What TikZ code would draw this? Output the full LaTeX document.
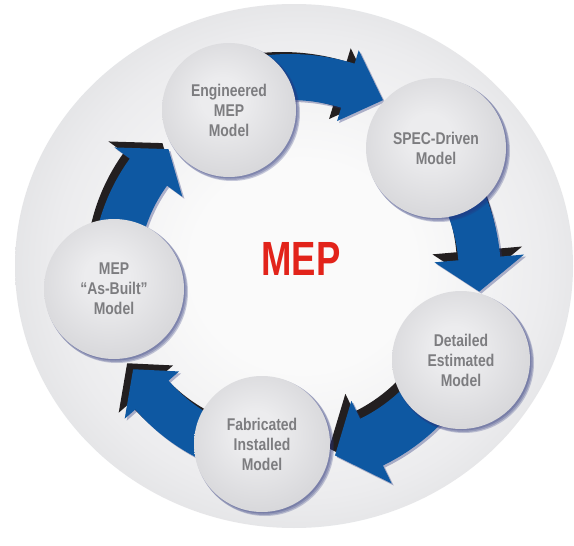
\documentclass[tikz,border=0pt]{standalone}
\usepackage{fontspec}
\newfontfamily\lblfont[FakeStretch=0.82]{Liberation Sans}
\newfontfamily\mepfont[FakeStretch=0.76]{Liberation Sans}
\definecolor{bga}{RGB}{250,250,250}
\definecolor{bgb}{RGB}{236,236,238}
\definecolor{bgc}{RGB}{216,217,219}
\definecolor{bge}{RGB}{205,206,209}
\definecolor{bgd}{RGB}{197,198,201}
\definecolor{arrblue}{RGB}{14,88,162}
\definecolor{arrblack}{RGB}{35,31,32}
\definecolor{navy}{RGB}{40,50,120}
\definecolor{lblgray}{RGB}{125,125,128}
\definecolor{mepred}{RGB}{226,35,26}
\definecolor{sa}{RGB}{236,236,238}
\definecolor{sb}{RGB}{215,215,218}
\definecolor{sc}{RGB}{186,186,190}
\definecolor{sd}{RGB}{160,160,166}
\pgfdeclareradialshading{spheresh}{\pgfpoint{-3bp}{5bp}}{color(0bp)=(sa); color(8bp)=(sa); color(28bp)=(sb); color(42bp)=(sc); color(50bp)=(sd)}
\pgfdeclareradialshading{bgsh}{\pgfpoint{1bp}{0bp}}{color(0bp)=(bga); color(10bp)=(bga); color(22bp)=(bgb); color(32bp)=(bgc); color(40bp)=(bge); color(50bp)=(bgd)}
% start, back, tip, R, h, H, dx, dy  (centre of the cycle: 290,275)
\newcommand{\cycarrow}[8]{%
  \fill[arrblack, shift={(#7,#8)}]
    plot[domain=#1:#2,samples=25] ({290+(#4+#5)*cos(\x)},{275+(#4+#5)*sin(\x)})
    -- ({290+(#4+#6)*cos(#2)},{275+(#4+#6)*sin(#2)})
    -- ({290+#4*cos(#3)},{275+#4*sin(#3)})
    -- ({290+(#4-#6)*cos(#2)},{275+(#4-#6)*sin(#2)})
    -- plot[domain=#2:#1,samples=25] ({290+(#4-#5)*cos(\x)},{275+(#4-#5)*sin(\x)})
    -- cycle;
  \fill[navy, opacity=0.35, shift={(2,2)}]
    plot[domain=#1:#2,samples=25] ({290+(#4+#5)*cos(\x)},{275+(#4+#5)*sin(\x)})
    -- ({290+(#4+#6)*cos(#2)},{275+(#4+#6)*sin(#2)})
    -- ({290+#4*cos(#3)},{275+#4*sin(#3)})
    -- ({290+(#4-#6)*cos(#2)},{275+(#4-#6)*sin(#2)})
    -- plot[domain=#2:#1,samples=25] ({290+(#4-#5)*cos(\x)},{275+(#4-#5)*sin(\x)})
    -- cycle;
  \fill[arrblue]
    plot[domain=#1:#2,samples=25] ({290+(#4+#5)*cos(\x)},{275+(#4+#5)*sin(\x)})
    -- ({290+(#4+#6)*cos(#2)},{275+(#4+#6)*sin(#2)})
    -- ({290+#4*cos(#3)},{275+#4*sin(#3)})
    -- ({290+(#4-#6)*cos(#2)},{275+(#4-#6)*sin(#2)})
    -- plot[domain=#2:#1,samples=25] ({290+(#4-#5)*cos(\x)},{275+(#4-#5)*sin(\x)})
    -- cycle;}
\tikzset{
  sphere/.style={circle, shade, shading=spheresh, minimum size=#1, inner sep=0pt,
    align=center, text=lblgray, font=\lblfont\bfseries\fontsize{17}{20}\selectfont},
  sphshadow/.style={fill=navy, opacity=0.25}
}
\newcommand{\softshadow}[3]{%
  \fill[sphshadow] (#1+3,#2+3) circle (#3+1);
  \fill[sphshadow] (#1+2,#2+2) circle (#3+1);
  \fill[sphshadow] (#1+1.5,#2+1.5) circle (#3);}
\begin{document}
\begin{tikzpicture}[x=1pt,y=-1pt]
\useasboundingbox (0,0) rectangle (574,546);
\fill[white] (0,0) rectangle (574,546);
% background disc
\shade[shading=bgsh] (294,266) ellipse [x radius=279, y radius=262];
% arrows
\cycarrow{-100}{-73}{-62}{198}{23}{37}{-8}{-2}
\cycarrow{-32}{-5}{5}{190}{21}{45}{-2}{-8}
\cycarrow{30}{64}{76}{186}{26}{46}{-6}{-7}
\cycarrow{100}{139}{149}{183}{22}{36}{-6}{-6}
\cycarrow{185}{216}{226}{175}{23}{42}{-6}{-6}
% sphere shadows
\softshadow{229}{110}{67}
\softshadow{436}{148}{70}
\softshadow{461}{360}{69}
\softshadow{262}{444}{68}
\softshadow{114}{289}{70}
% spheres
\node[sphere=134pt] (eng) at (229,110) {Engineered\\MEP\\Model};
\node[sphere=140pt] (spec) at (436,148) {SPEC-Driven\\Model};
\node[sphere=138pt] (det) at (461,360) {Detailed\\Estimated\\Model};
\node[sphere=136pt] (fab) at (262,444) {Fabricated\\Installed\\Model};
\node[sphere=140pt] (asb) at (114,289) {MEP\\“As-Built”\\Model};
% centre label
\node[text=mepred, font=\mepfont\bfseries\fontsize{48}{48}\selectfont] (mep) at (301,259) {MEP};
\end{tikzpicture}
\end{document}
